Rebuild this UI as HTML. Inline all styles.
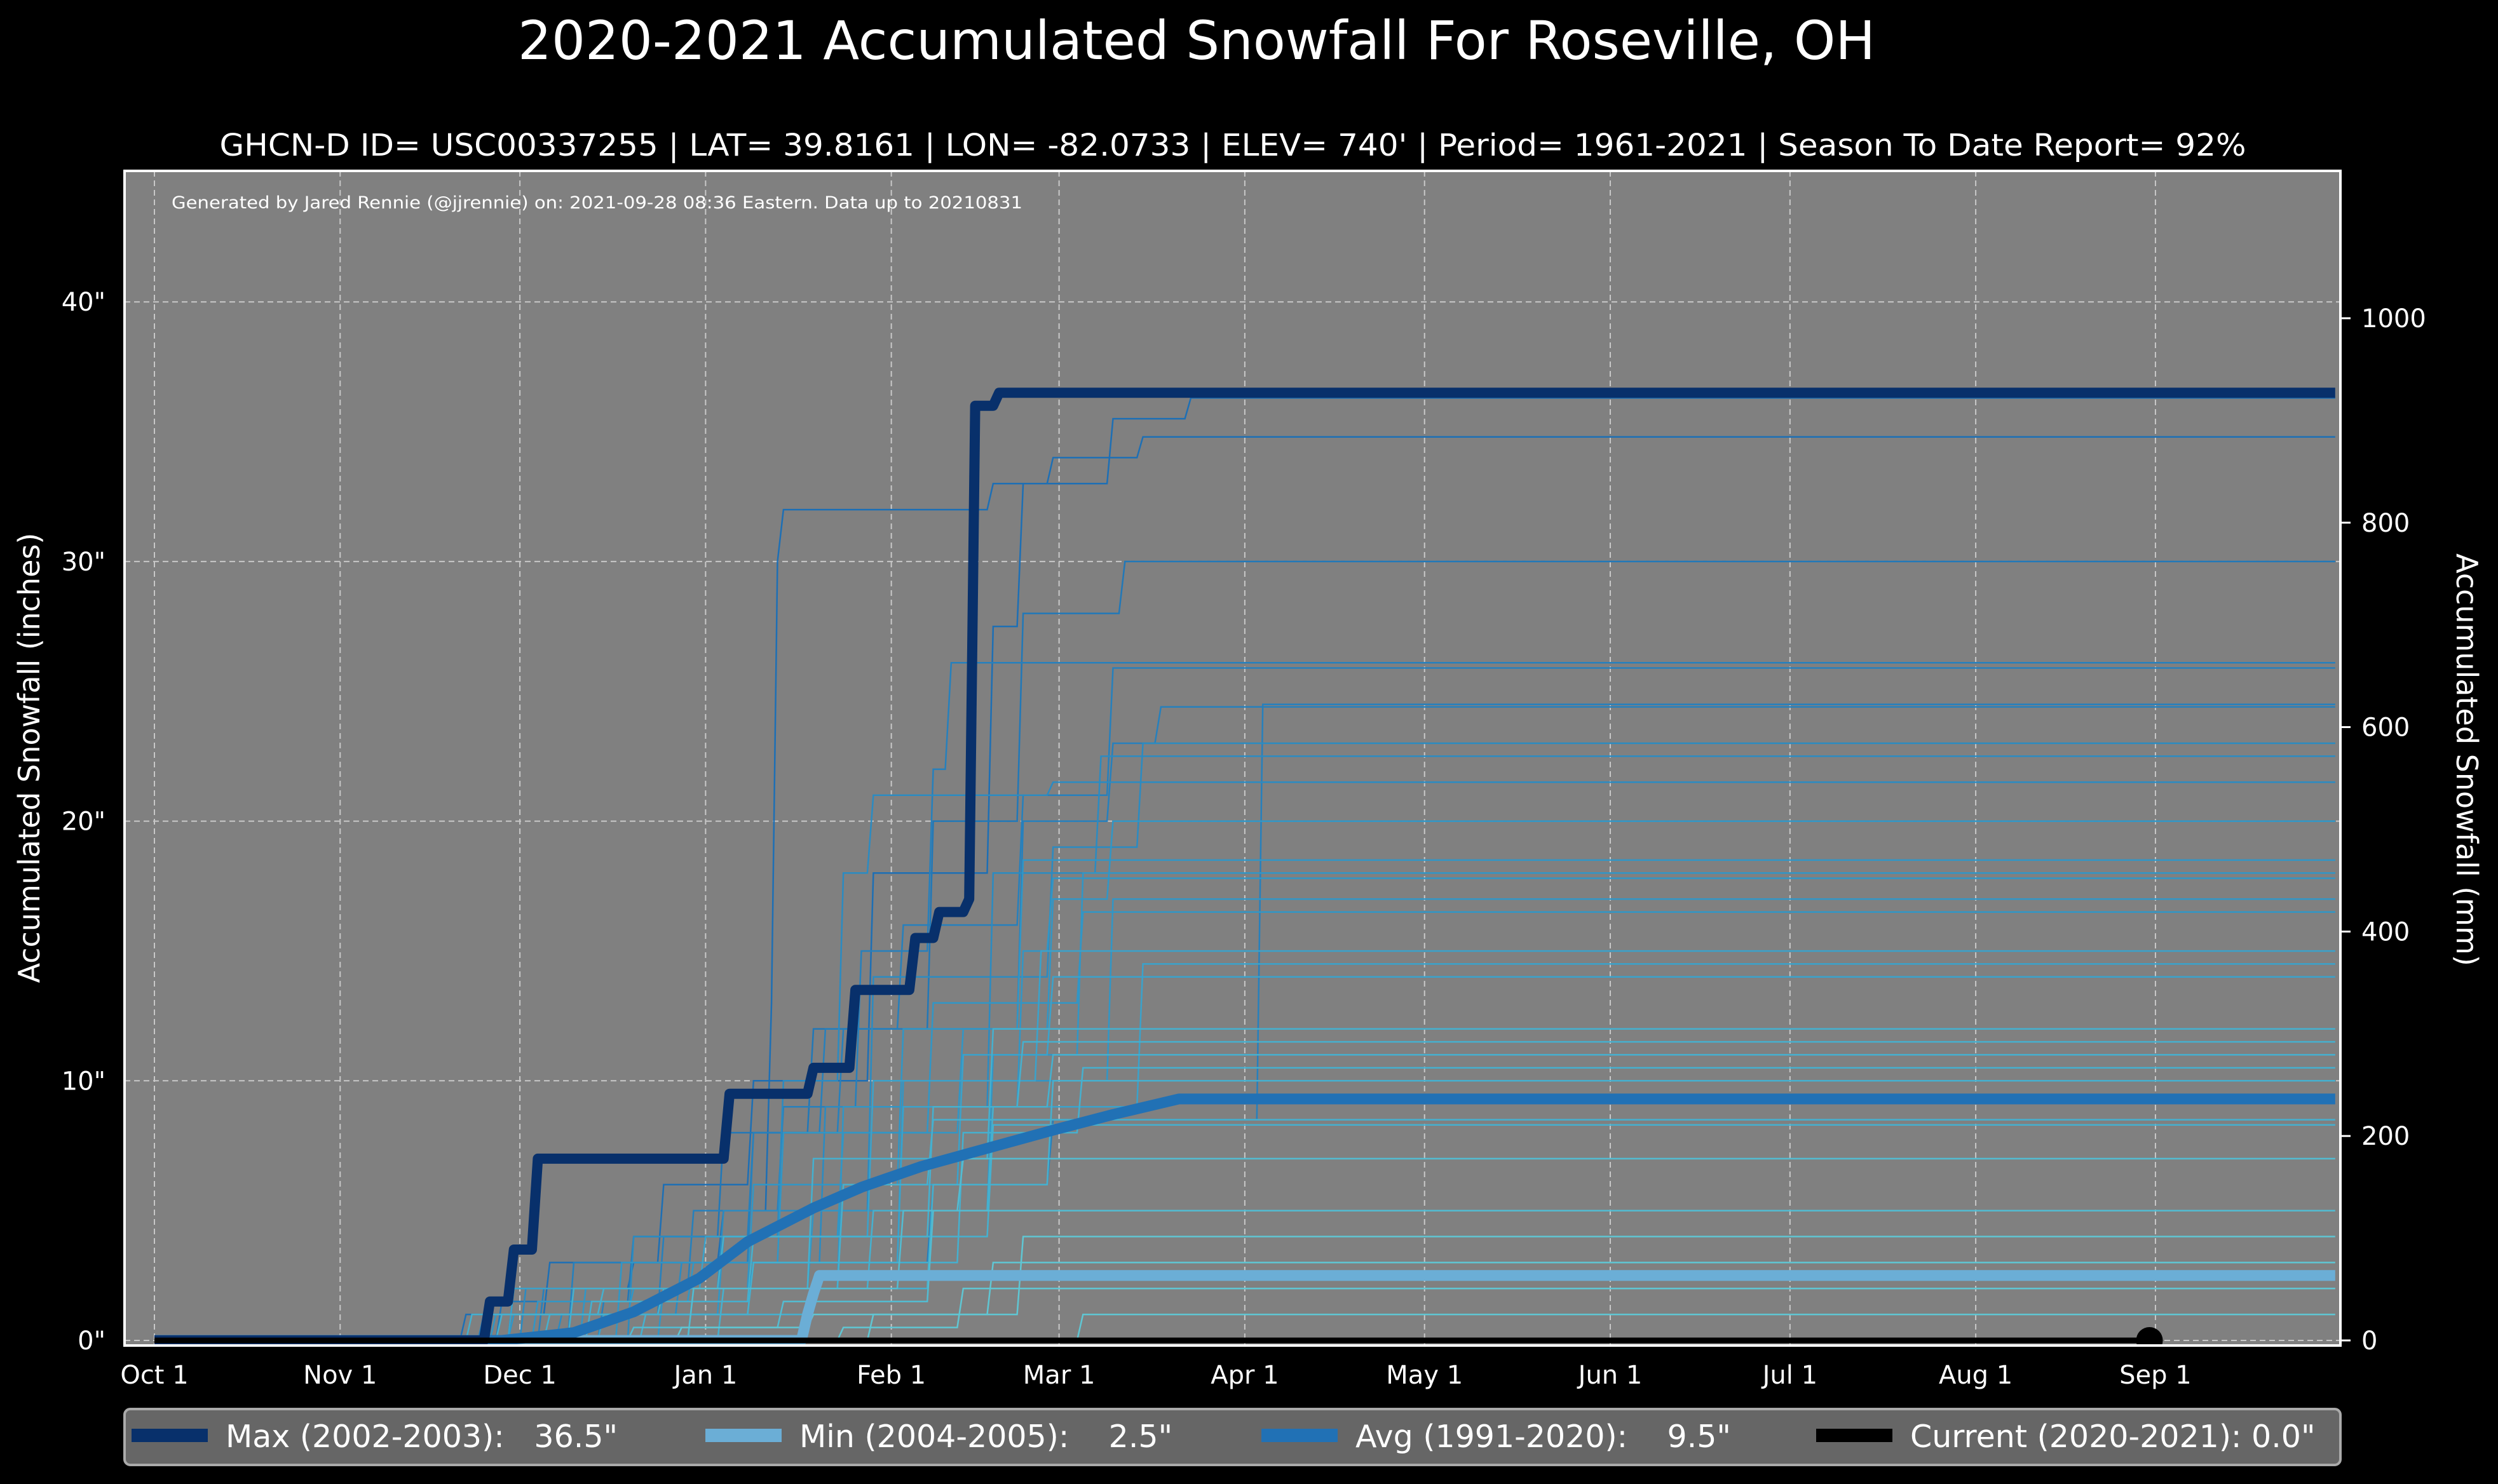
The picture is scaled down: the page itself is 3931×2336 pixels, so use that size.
<!DOCTYPE html>
<html><head><meta charset="utf-8"><style>
html,body{margin:0;padding:0;background:#000;}
svg{display:block;font-family:"DejaVu Sans","Liberation Sans",sans-serif;}
</style></head><body>
<svg id="chart" width="3931" height="2336" viewBox="0 0 3931 2336" xmlns="http://www.w3.org/2000/svg">
<rect width="3931" height="2336" fill="#000"/>
<text x="1883" y="93" fill="#fff" font-size="84" text-anchor="middle" textLength="2136" lengthAdjust="spacingAndGlyphs">2020-2021 Accumulated Snowfall For Roseville, OH</text>
<text x="1940" y="245" fill="#fff" font-size="48" text-anchor="middle" textLength="3189" lengthAdjust="spacingAndGlyphs">GHCN-D ID= USC00337255 | LAT= 39.8161 | LON= -82.0733 | ELEV= 740' | Period= 1961-2021 | Season To Date Report= 92%</text>
<rect x="196" y="269" width="3487" height="1849" fill="#808080"/>
<g id="grid"></g>
<g id="thin"></g>
<g id="main"></g>
<text x="270" y="328" fill="#fff" font-size="27" textLength="1339" lengthAdjust="spacingAndGlyphs">Generated by Jared Rennie (@jjrennie) on: 2021-09-28 08:36 Eastern. Data up to 20210831</text>
<rect x="196" y="269" width="3487" height="1849" fill="none" stroke="#fff" stroke-width="4"/>
<g id="ticks"></g>
<text transform="translate(62,1193) rotate(-90)" fill="#fff" font-size="46" text-anchor="middle">Accumulated Snowfall (inches)</text>
<text transform="translate(3866,1196) rotate(90)" fill="#fff" font-size="46" text-anchor="middle">Accumulated Snowfall (mm)</text>
<g>
<rect x="196" y="2218" width="3487" height="88" rx="9" fill="#666" stroke="#aaa" stroke-width="4"/>
<g id="legend-items"></g>
</g>
</svg>
<script>
const monthLabels=["Oct 1","Nov 1","Dec 1","Jan 1","Feb 1","Mar 1","Apr 1","May 1","Jun 1","Jul 1","Aug 1","Sep 1"];
const monthDays=[0,31,61,92,123,151,182,212,243,273,304,334];
const yTicksIn=[0,10,20,30,40];
const yTicksMm=[0,200,400,600,800,1000];
const maxSeries=[[0,0],[55,0],[56,1.5],[59,1.5],[60,3.5],[63,3.5],[64,7],[95,7],[96,9.5],[109,9.5],[110,10.5],[116,10.5],[117,13.5],[126,13.5],[127,15.5],[130,15.5],[131,16.5],[135,16.5],[136,17],[137,36],[140,36],[141,36.5],[364,36.5]];
const minSeries=[[0,0],[108,0],[109,1],[110,1.8],[111,2.5],[364,2.5]];
const avgSeries=[[0,0],[58,0],[70,0.3],[80,1.1],[91,2.4],[99,3.8],[110,5.1],[118,5.9],[128,6.7],[139,7.4],[150,8.1],[160,8.7],[171,9.3],[364,9.3]];
const curSeries=[[0,0],[333,0]];
const thinSeries=[
[[52,1],[66,3],[85,6],[100,10],[120,18],[140,27.5],[145,33],[160,35.5],[173,36.3]],
[[60,2],[80,3],[95,5],[103,13],[104,30],[105,32],[140,33],[150,34],[165,34.8]],
[[58,1.5],[80,4],[95,8],[110,12],[130,20],[145,28],[162,30]],
[[65,2],[90,5],[105,9],[118,15],[130,22],[133,26.1]],
[[70,3],[100,8],[112,12],[125,16],[145,21],[160,25.9]],
[[75,1.5],[100,3],[130,6],[150,8.5],[185,24.5]],
[[55,1],[85,4],[100,8],[115,12],[145,20],[160,23],[168,24.4]],
[[62,2],[95,5],[120,14],[150,19],[165,23]],
[[68,1],[88,3],[112,9],[140,18],[158,22.5]],
[[80,4],[105,10],[115,18],[120,21],[150,21.5]],
[[60,1],[95,4],[115,8],[135,12],[150,17],[160,20]],
[[72,2],[100,6],[125,12],[145,18.5]],
[[85,2],[110,5],[140,11],[155,18]],
[[57,1],[80,2],[115,9],[145,15],[150,17.8]],
[[64,1.5],[90,3],[125,10],[160,17]],
[[78,3],[105,8],[130,13],[155,16.5]],
[[60,2],[92,4],[120,10],[148,15]],
[[75,1],[100,3],[125,9],[165,14.5]],
[[90,2],[115,6],[135,11],[150,14]],
[[53,1],[85,2],[110,7],[140,12]],
[[70,2],[95,4],[130,9],[145,11.5]],
[[95,2],[120,5],[140,9],[150,11]],
[[66,1],[100,3],[135,8],[155,10.5]],
[[82,1],[110,2],[130,6],[150,10]],
[[58,1],[75,2],[115,6],[130,8.5]],
[[73,1.5],[100,4],[140,8.3]],
[[90,2],[125,5],[135,7]],
[[80,0.5],[105,1.5],[130,5]],
[[120,1],[145,4]],
[[88,0.5],[110,1],[140,3]],
[[115,0.5],[135,2]],
[[155,1]]
];
const legendLabels=["Max (2002-2003):   36.5\"","Min (2004-2005):    2.5\"","Avg (1991-2020):    9.5\"","Current (2020-2021): 0.0\""];
const legendColors=["#08306b","#6baed6","#2171b5","#000000"];

const NS="http://www.w3.org/2000/svg";
function X(d){return 243+d*9.428;}
function Y(v){return 2110-v*40.87;}
function Ymm(m){return Y(m/25.4);}
function mk(tag,attrs,parent){const e=document.createElementNS(NS,tag);for(const k in attrs)e.setAttribute(k,attrs[k]);parent.appendChild(e);return e;}
const grid=document.getElementById('grid'),ticks=document.getElementById('ticks');
monthDays.forEach((d,i)=>{
  const g=mk('line',{x1:X(d),x2:X(d),y1:269,y2:2118,stroke:'#c8c8c8','stroke-width':2,'stroke-dasharray':'9,6'},grid);
  
  
  const t=mk('text',{x:X(d),y:2178,fill:'#fff','font-size':40,'text-anchor':'middle'},ticks);
  
  
  t.textContent=monthLabels[i];
});
yTicksIn.forEach(v=>{
  const g=mk('line',{x1:196,x2:3683,y1:Y(v),y2:Y(v),stroke:'#c8c8c8','stroke-width':2,'stroke-dasharray':'9,6'},grid);
  
  
  const t=mk('text',{x:166,y:Y(v)+14,fill:'#fff','font-size':40,'text-anchor':'end'},ticks);
  
  
  t.textContent=v+'"';
});
yTicksMm.forEach(m=>{
  const l=mk('line',{x1:3683,x2:3699,y1:Ymm(m),y2:Ymm(m),stroke:'#fff','stroke-width':3},ticks);
  
  
  const t=mk('text',{x:3716,y:Ymm(m)+14,fill:'#fff','font-size':40},ticks);
  
  
  t.textContent=m;
});
function stepPath(steps){
  let pts=[[0,0]];let prev=0;
  steps.forEach(([d,v])=>{pts.push([d-1,prev]);pts.push([d,v]);prev=v;});
  pts.push([364,prev]);
  return 'M'+pts.map(p=>X(p[0]).toFixed(1)+','+Y(p[1]).toFixed(1)).join(' L');
}
function linePath(pts){return 'M'+pts.map(p=>X(p[0]).toFixed(1)+','+Y(p[1]).toFixed(1)).join(' L');}
const thin=document.getElementById('thin');
const thinColors=["#1d6fb5","#2178b8","#2680bd","#2b8bc2","#3196c6","#3aa2cb","#45b0cf","#52bcd2","#5fc6d3"];
thinSeries.forEach((s,i)=>{
  const fin=s[s.length-1][1];
  const ci=Math.min(thinColors.length-1,Math.max(0,Math.floor((36-fin)/4)));
  const p=mk('path',{d:stepPath(s),fill:'none',stroke:thinColors[ci],'stroke-width':2.5},thin);
  
  
});
const main=document.getElementById('main');
let p;
p=mk('path',{d:linePath(minSeries),fill:'none',stroke:'#6baed6','stroke-width':17,'stroke-linejoin':'round'},main);


p=mk('path',{d:linePath(avgSeries),fill:'none',stroke:'#2171b5','stroke-width':17,'stroke-linejoin':'round'},main);


p=mk('path',{d:linePath(maxSeries),fill:'none',stroke:'#08306b','stroke-width':16,'stroke-linejoin':'round'},main);


p=mk('path',{d:linePath(curSeries),fill:'none',stroke:'#000','stroke-width':9},main);


const last=curSeries[curSeries.length-1];
p=mk('circle',{cx:X(last[0]),cy:Y(last[1]),r:21,fill:'#000'},main);


const li=document.getElementById('legend-items');
const lx=[207,1110,1985,2858];
legendLabels.forEach((lab,i)=>{
  const r=mk('rect',{x:lx[i],y:2249,width:120,height:21,fill:legendColors[i]},li);
  
  
  const t=mk('text',{x:lx[i]+148,y:2278,fill:'#fff','font-size':49},li);
  
  
  t.style.whiteSpace='pre';
  t.textContent=lab;
});
</script>
</body></html>
